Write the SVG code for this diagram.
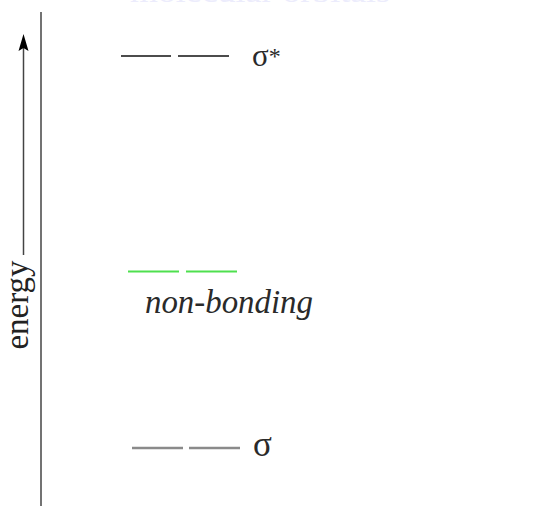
<svg xmlns="http://www.w3.org/2000/svg" width="542" height="506" viewBox="0 0 542 506">
  <style>
    .serif { font-family: "Liberation Serif", "Times New Roman", serif; }
    .axis { stroke: #444; stroke-width: 1.5; fill: none; }
    .lvl-anti { stroke: #111; stroke-width: 1.6; }
    .lvl-nb { stroke: #4ee04e; stroke-width: 2; }
    .lvl-bond { stroke: #8a8a8a; stroke-width: 2.6; }
    .label { fill: #2a2a2a; }
  </style>
  <rect width="542" height="506" fill="#fff"/>

  <!-- title, mostly above the top edge -->
  <text class="serif" x="130" y="1.5" font-size="30" fill="#ececfc" textLength="260" lengthAdjust="spacingAndGlyphs">molecular orbitals</text>

  <!-- energy axis -->
  <g id="energy-axis">
    <line class="axis" x1="41" y1="12" x2="41" y2="506"/>
    <line x1="23.5" y1="255" x2="23.5" y2="46" stroke="#444" stroke-width="1.5"/>
    <path d="M23.5 34 L28.5 51 L23.5 48 L18.5 51 Z" fill="#000"/>
    <text class="serif" x="28" y="305" font-size="33" fill="#222" text-anchor="middle" transform="rotate(-90 28 305)">energy</text>
  </g>

  <g id="connectors"/>

  <!-- sigma* antibonding pair -->
  <g id="sigma-star">
    <line class="lvl-anti" x1="121" y1="56" x2="171" y2="56"/>
    <line class="lvl-anti" x1="178" y1="56" x2="229" y2="56"/>
    <text class="serif label" x="252" y="66" font-size="31">σ<tspan font-size="24" dy="-2">*</tspan></text>
  </g>

  <!-- non-bonding pair -->
  <g id="non-bonding">
    <line class="lvl-nb" x1="128" y1="271.5" x2="179" y2="271.5"/>
    <line class="lvl-nb" x1="186" y1="271.5" x2="237" y2="271.5"/>
    <text class="serif label" x="145" y="313" font-size="33" font-style="italic" textLength="168" lengthAdjust="spacingAndGlyphs">non-bonding</text>
  </g>

  <!-- sigma bonding pair -->
  <g id="sigma">
    <line class="lvl-bond" x1="132" y1="448" x2="183" y2="448"/>
    <line class="lvl-bond" x1="189" y1="448" x2="240" y2="448"/>
    <text class="serif label" x="253" y="456" font-size="35">σ</text>
  </g>
</svg>
